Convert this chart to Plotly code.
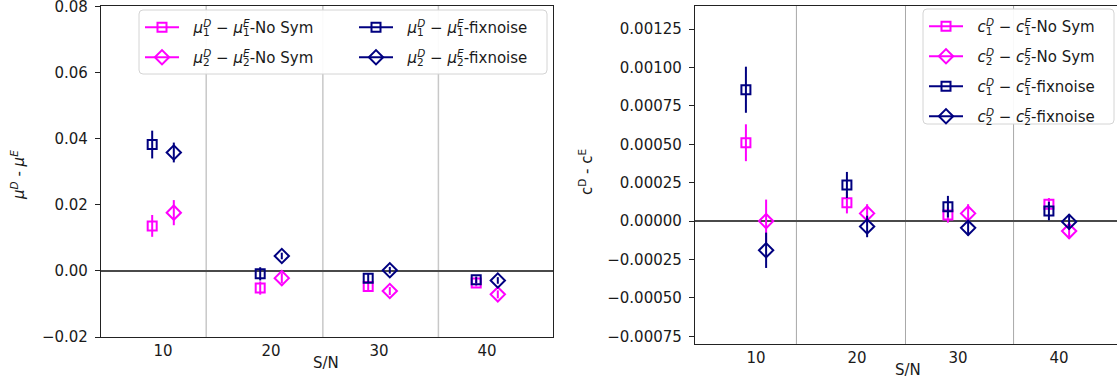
import plotly.graph_objects as go

W, H = 1117, 382

# Signal-to-noise levels (x categories); the two estimators are dodged left/right
sn = [10, 20, 30, 40]

# Left panel: mu^D - mu^E
mu1_nosym = [0.0136, -0.0052, -0.0047, -0.0037]
mu1_nosym_err = [0.0033, 0.0020, 0.0015, 0.0010]
mu2_nosym = [0.0176, -0.0022, -0.0061, -0.0071]
mu2_nosym_err = [0.0038, 0.0015, 0.0012, 0.0012]
mu1_fix = [0.0382, -0.0009, -0.0022, -0.0027]
mu1_fix_err = [0.0042, 0.0020, 0.0015, 0.0010]
mu2_fix = [0.0358, 0.0045, 0.0002, -0.0029]
mu2_fix_err = [0.0030, 0.0010, 0.0010, 0.0010]

# Right panel: c^D - c^E
c1_nosym = [0.00051, 0.00012, 0.00004, 0.00011]
c1_nosym_err = [0.00012, 0.00007, 0.00005, 0.00004]
c2_nosym = [0.0, 0.00005, 0.00005, -0.000065]
c2_nosym_err = [0.00014, 0.00006, 0.00006, 0.00005]
c1_fix = [0.000855, 0.000235, 0.000094, 0.000065]
c1_fix_err = [0.00015, 0.000085, 0.00007, 0.00006]
c2_fix = [-0.00019, -0.000035, -0.000044, -0.000004]
c2_fix_err = [0.000115, 0.00007, 0.00005, 0.00005]

# Separators between S/N groups
separators = [14.0, 24.8, 35.5]

MAGENTA = "#ff00ff"
NAVY = "#000080"
AXIS = "#222222"
DODGE = 1.0
SQ, DI = 9, 11
PAD = "\u00a0\u00a0"  # gap between legend key and its text

fig = go.Figure()


def add_points(xa, ya, y, err, color, symbol, size, dx):
    fig.add_trace(go.Scatter(
        x=[v + dx for v in sn], y=y, mode="markers", xaxis=xa, yaxis=ya,
        error_y=dict(type="data", array=err, visible=True, color=color,
                     thickness=2, width=0),
        marker=dict(symbol=symbol, size=size, color=color,
                    line=dict(color=color, width=2)),
        showlegend=False, hoverinfo="skip"))


def add_key(xa, ya, label, color, symbol, size, legend, group):
    fig.add_trace(go.Scatter(
        x=[None], y=[None], mode="lines+markers", xaxis=xa, yaxis=ya,
        name=label, legend=legend, legendgroup=group,
        line=dict(color=color, width=2),
        marker=dict(symbol=symbol, size=size, color=color,
                    line=dict(color=color, width=2))))


def sym_label(s, i, rest, italic=True):
    base = f"<i>{s}</i>" if italic else s
    sub = f"<sub><span style='letter-spacing:-6.6px'>{i}</span></sub>"
    return (f"{PAD}{base}{sub}<sup><i>D</i></sup> \u2212 "
            f"{base}{sub}<sup><i>E</i></sup>-{rest}")


# Left panel traces
add_points("x", "y", mu1_nosym, mu1_nosym_err, MAGENTA, "square-open", SQ, -DODGE)
add_points("x", "y", mu2_nosym, mu2_nosym_err, MAGENTA, "diamond-open", DI, DODGE)
add_points("x", "y", mu1_fix, mu1_fix_err, NAVY, "square-open", SQ, -DODGE)
add_points("x", "y", mu2_fix, mu2_fix_err, NAVY, "diamond-open", DI, DODGE)

# Right panel traces
add_points("x2", "y2", c1_nosym, c1_nosym_err, MAGENTA, "square-open", SQ, -DODGE)
add_points("x2", "y2", c2_nosym, c2_nosym_err, MAGENTA, "diamond-open", DI, DODGE)
add_points("x2", "y2", c1_fix, c1_fix_err, NAVY, "square-open", SQ, -DODGE)
add_points("x2", "y2", c2_fix, c2_fix_err, NAVY, "diamond-open", DI, DODGE)

# Legend keys
add_key("x", "y", sym_label("μ", 1, "No Sym"), MAGENTA, "square-open", SQ, "legend", "a1")
add_key("x", "y", sym_label("μ", 2, "No Sym"), MAGENTA, "diamond-open", DI, "legend", "a2")
add_key("x", "y", sym_label("μ", 1, "fixnoise"), NAVY, "square-open", SQ, "legend2", "b1")
add_key("x", "y", sym_label("μ", 2, "fixnoise"), NAVY, "diamond-open", DI, "legend2", "b2")
add_key("x2", "y2", sym_label("c", 1, "No Sym"), MAGENTA, "square-open", SQ, "legend3", "c1")
add_key("x2", "y2", sym_label("c", 2, "No Sym"), MAGENTA, "diamond-open", DI, "legend3", "c2")
add_key("x2", "y2", sym_label("c", 1, "fixnoise"), NAVY, "square-open", SQ, "legend3", "c3")
add_key("x2", "y2", sym_label("c", 2, "fixnoise"), NAVY, "diamond-open", DI, "legend3", "c4")


def px(xp):
    return xp / W


def py(yp):
    return 1 - yp / H


def rounded_box(x0, y0, x1, y1, r=4):
    rx, ry = r / W, r / H
    a, b, c, d = px(x0), px(x1), py(y1), py(y0)
    return (f"M{a + rx},{d} L{b - rx},{d} Q{b},{d} {b},{d - ry} "
            f"L{b},{c + ry} Q{b},{c} {b - rx},{c} L{a + rx},{c} "
            f"Q{a},{c} {a},{c + ry} L{a},{d - ry} Q{a},{d} {a + rx},{d} Z")


shapes = []
for s in separators:
    shapes.append(dict(type="line", xref="x", yref="y domain", x0=s, x1=s, y0=0, y1=1,
                       layer="below", line=dict(color="#c8c8c8", width=1.5)))
    shapes.append(dict(type="line", xref="x2", yref="y2 domain", x0=s, x1=s, y0=0, y1=1,
                       layer="below", line=dict(color="#a8a8a8", width=1)))
for box in [(139, 10, 547, 74), (923, 9, 1114, 124)]:
    shapes.append(dict(type="path", xref="paper", yref="paper", path=rounded_box(*box),
                       fillcolor="rgba(255,255,255,0.92)", line=dict(color="#d4d4d4", width=1),
                       layer="above"))

common_x = dict(ticks="", showgrid=False, zeroline=False, showline=True, mirror=True,
                linecolor=AXIS, linewidth=1.3, tickvals=sn, automargin=False,
                tickfont=dict(size=15, color="#1a1a1a"))
common_y = dict(ticks="outside", ticklen=5, tickwidth=1.2, tickcolor=AXIS,
                showgrid=False, zeroline=True, zerolinecolor="#4a4a4a", zerolinewidth=1.5,
                showline=True, linecolor=AXIS, linewidth=1.3, automargin=False,
                ticklabelstandoff=4, ticklabeloverflow="allow",
                tickfont=dict(size=15, color="#1a1a1a"))

legend_common = dict(bgcolor="rgba(0,0,0,0)", borderwidth=0, xanchor="left", yanchor="top",
                     tracegroupgap=7.5, itemwidth=34,
                     font=dict(family="DejaVu Sans", size=15, color="#1a1a1a"),
                     orientation="v")

fig.update_layout(
    width=W, height=H, margin=dict(l=0, r=0, t=0, b=0, autoexpand=False),
    paper_bgcolor="white", plot_bgcolor="white",
    font=dict(family="DejaVu Sans", size=15, color="#1a1a1a"),
    xaxis=dict(domain=[px(101), px(553)], range=[4.26, 46.11], anchor="y", **common_x),
    yaxis=dict(domain=[py(337), py(6)], range=[-0.02, 0.0801], tick0=0, dtick=0.02,
               tickformat=".2f", anchor="x", mirror=True, **common_y),
    xaxis2=dict(domain=[px(695), 1.0], range=[3.96, 45.74], anchor="y2", **common_x),
    yaxis2=dict(domain=[py(344), py(6)], range=[-0.0008, 0.0014], tick0=0, dtick=0.00025,
                tickformat=".5f", anchor="x2", mirror=False, **common_y),
    legend=dict(x=px(140), y=py(11), **legend_common),
    legend2=dict(x=px(354), y=py(11), **legend_common),
    legend3=dict(x=px(924), y=py(10), **legend_common),
    shapes=shapes,
    annotations=[
        dict(text="<i>μ</i><sup><i>D</i></sup> - <i>μ</i><sup><i>E</i></sup>",
             x=px(18), y=py(175), xref="paper", yref="paper", textangle=-90,
             showarrow=False, xanchor="center", yanchor="middle", font=dict(size=15)),
        dict(text="c<sup>D</sup> - c<sup>E</sup>",
             x=px(586), y=py(172), xref="paper", yref="paper", textangle=-90,
             showarrow=False, xanchor="center", yanchor="middle", font=dict(size=15)),
        dict(text="S/N", x=px(326), y=py(363), xref="paper", yref="paper",
             showarrow=False, xanchor="center", yanchor="middle", font=dict(size=15)),
        dict(text="S/N", x=px(908), y=py(370), xref="paper", yref="paper",
             showarrow=False, xanchor="center", yanchor="middle", font=dict(size=15)),
    ],
)

fig.write_html("out.html")
